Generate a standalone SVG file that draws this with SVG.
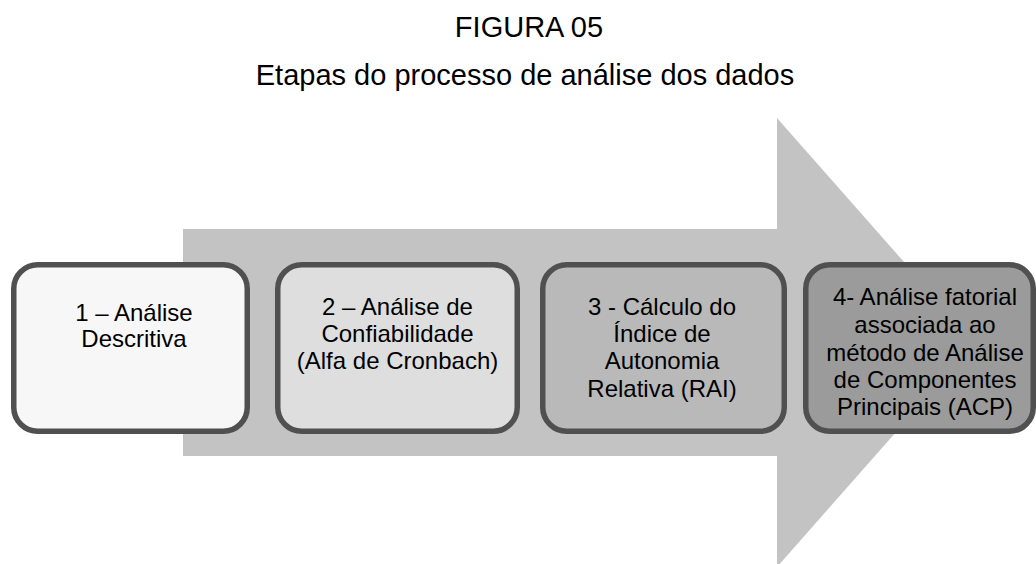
<svg xmlns="http://www.w3.org/2000/svg" width="1036" height="564" viewBox="0 0 1036 564">
<style>
.t{font-family:"Liberation Sans",Arial,sans-serif;fill:#000;text-anchor:middle}
.title{font-size:29px}
.lbl{font-size:24px}
.box{stroke:#505050;stroke-width:5.5}
</style>
<rect width="1036" height="564" fill="#fff"/>
<g id="arrow">
<polygon points="183,229 777,229 777,118 975,342.5 777,567 777,456 183,456" fill="#c3c3c3"/>
</g>
<g id="title">
<text class="t title" x="529" y="37">FIGURA 05</text>
<text class="t title" x="525" y="85">Etapas do processo de análise dos dados</text>
</g>
<g id="connectors"></g>
<g id="node1">
<rect class="box" x="13.75" y="264.75" width="233.5" height="166.5" rx="24" fill="#f7f7f7"/>
<text class="t lbl" x="134" y="321">1 – Análise</text>
<text class="t lbl" x="134" y="347">Descritiva</text>
</g>
<g id="node2">
<rect class="box" x="277.75" y="264.75" width="239.5" height="166.5" rx="24" fill="#dedede"/>
<text class="t lbl" x="397.5" y="315">2 – Análise de</text>
<text class="t lbl" x="397.5" y="342">Confiabilidade</text>
<text class="t lbl" x="397.5" y="369">(Alfa de Cronbach)</text>
</g>
<g id="node3">
<rect class="box" x="542.75" y="264.75" width="241.5" height="166.5" rx="24" fill="#b9b9b9"/>
<text class="t lbl" x="662" y="315">3 - Cálculo do</text>
<text class="t lbl" x="662" y="342">Índice de</text>
<text class="t lbl" x="662" y="369">Autonomia</text>
<text class="t lbl" x="662" y="397">Relativa (RAI)</text>
</g>
<g id="node4">
<rect class="box" x="805.75" y="264.75" width="227.5" height="166.5" rx="24" fill="#9b9b9b"/>
<text class="t lbl" x="925" y="305">4- Análise fatorial</text>
<text class="t lbl" x="925" y="333">associada ao</text>
<text class="t lbl" x="925" y="361">método de Análise</text>
<text class="t lbl" x="925" y="388">de Componentes</text>
<text class="t lbl" x="925" y="415">Principais (ACP)</text>
</g>
</svg>
